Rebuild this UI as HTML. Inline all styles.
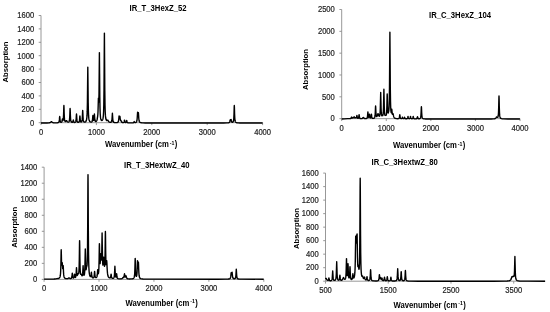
<!DOCTYPE html>
<html><head><meta charset="utf-8"><style>
html,body{margin:0;padding:0;background:#fff;width:550px;height:312px;overflow:hidden}
svg{position:absolute;left:0;top:0;font-family:'Liberation Sans', sans-serif;filter:grayscale(1)}
</style></head><body>
<svg width="550" height="312" viewBox="0 0 550 312">
<path d="M41.0,15.5V122.7H262.6" fill="none" stroke="#8c8c8c" stroke-width="0.9"/>
<text transform="translate(34.20,125.50) scale(1,1.17)" font-size="7.6" text-anchor="end" stroke="#222" stroke-width="0.18" fill="#222">0</text>
<text transform="translate(34.20,112.10) scale(1,1.17)" font-size="7.6" text-anchor="end" stroke="#222" stroke-width="0.18" fill="#222">200</text>
<text transform="translate(34.20,98.70) scale(1,1.17)" font-size="7.6" text-anchor="end" stroke="#222" stroke-width="0.18" fill="#222">400</text>
<text transform="translate(34.20,85.30) scale(1,1.17)" font-size="7.6" text-anchor="end" stroke="#222" stroke-width="0.18" fill="#222">600</text>
<text transform="translate(34.20,71.90) scale(1,1.17)" font-size="7.6" text-anchor="end" stroke="#222" stroke-width="0.18" fill="#222">800</text>
<text transform="translate(34.20,58.50) scale(1,1.17)" font-size="7.6" text-anchor="end" stroke="#222" stroke-width="0.18" fill="#222">1000</text>
<text transform="translate(34.20,45.10) scale(1,1.17)" font-size="7.6" text-anchor="end" stroke="#222" stroke-width="0.18" fill="#222">1200</text>
<text transform="translate(34.20,31.70) scale(1,1.17)" font-size="7.6" text-anchor="end" stroke="#222" stroke-width="0.18" fill="#222">1400</text>
<text transform="translate(34.20,18.30) scale(1,1.17)" font-size="7.6" text-anchor="end" stroke="#222" stroke-width="0.18" fill="#222">1600</text>
<text transform="translate(41.00,135.00) scale(1,1.17)" font-size="7.6" text-anchor="middle" stroke="#222" stroke-width="0.18" fill="#222">0</text>
<text transform="translate(96.40,135.00) scale(1,1.17)" font-size="7.6" text-anchor="middle" stroke="#222" stroke-width="0.18" fill="#222">1000</text>
<text transform="translate(151.80,135.00) scale(1,1.17)" font-size="7.6" text-anchor="middle" stroke="#222" stroke-width="0.18" fill="#222">2000</text>
<text transform="translate(207.20,135.00) scale(1,1.17)" font-size="7.6" text-anchor="middle" stroke="#222" stroke-width="0.18" fill="#222">3000</text>
<text transform="translate(262.60,135.00) scale(1,1.17)" font-size="7.6" text-anchor="middle" stroke="#222" stroke-width="0.18" fill="#222">4000</text>
<path d="M38.7,122.70H41.0M38.7,109.30H41.0M38.7,95.90H41.0M38.7,82.50H41.0M38.7,69.10H41.0M38.7,55.70H41.0M38.7,42.30H41.0M38.7,28.90H41.0M38.7,15.50H41.0M41.00,122.7V125.10000000000001M96.40,122.7V125.10000000000001M151.80,122.7V125.10000000000001M207.20,122.7V125.10000000000001M262.60,122.7V125.10000000000001" fill="none" stroke="#8c8c8c" stroke-width="0.9"/>
<polyline points="41.00,122.97 47.00,122.93 49.20,122.81 49.80,122.69 50.20,122.54 50.60,122.28 51.20,121.68 51.40,121.60 51.60,121.68 52.20,122.27 52.40,122.42 52.80,122.61 53.40,122.75 54.60,122.84 56.20,122.84 57.40,122.78 58.20,122.62 58.60,122.42 58.80,122.22 59.00,121.86 59.20,121.16 59.40,119.67 59.60,117.14 59.70,116.50 59.80,117.12 60.00,119.62 60.20,121.08 60.40,121.74 60.60,122.06 60.80,122.21 61.00,122.27 61.40,122.21 61.60,122.07 61.80,121.79 62.00,121.23 62.40,119.00 62.80,120.48 63.00,120.45 63.20,119.74 63.40,117.98 63.60,114.02 63.80,107.20 63.90,105.50 64.00,107.21 64.20,114.04 64.40,118.04 64.60,119.88 64.80,120.77 65.00,121.22 65.20,121.43 65.40,121.50 65.60,121.45 65.80,121.30 66.20,120.80 66.40,120.62 66.50,120.60 66.60,120.64 66.80,120.87 67.20,121.50 67.40,121.74 67.80,122.03 68.20,122.13 68.60,122.04 68.80,121.91 69.00,121.68 69.20,121.27 69.40,120.50 69.60,118.96 69.80,115.62 70.00,109.92 70.10,108.50 70.20,109.93 70.40,115.64 70.60,119.00 70.80,120.56 71.00,121.34 71.20,121.78 71.40,122.04 71.60,122.19 72.00,122.34 72.40,122.31 72.60,122.20 72.80,121.93 73.00,121.32 73.20,120.26 73.30,120.00 73.40,120.27 73.60,121.34 73.80,121.96 74.00,122.25 74.20,122.38 74.40,122.44 74.80,122.44 75.20,122.30 75.40,122.15 75.60,121.88 75.80,121.41 76.00,120.45 76.20,118.39 76.40,114.88 76.50,114.00 76.60,114.87 76.80,118.37 77.00,120.43 77.20,121.38 77.40,121.84 77.60,122.10 77.80,122.23 78.00,122.31 78.40,122.33 78.80,122.17 79.00,121.98 79.20,121.62 79.40,120.90 79.60,119.33 79.80,116.67 79.90,116.00 80.00,116.65 80.20,119.29 80.40,120.82 80.60,121.50 80.80,121.82 81.00,121.95 81.20,121.97 81.40,121.89 81.60,121.72 81.80,121.38 82.00,120.73 82.20,119.41 82.40,116.56 82.60,111.71 82.70,110.50 82.80,111.71 83.00,116.55 83.20,119.39 83.40,120.71 83.60,121.35 83.80,121.70 84.00,121.90 84.20,122.01 84.60,122.08 85.00,122.03 85.40,121.86 85.80,121.52 86.00,121.25 86.20,120.88 86.40,120.33 86.60,119.50 86.80,118.19 87.00,115.92 87.20,111.65 87.40,102.74 87.60,84.24 87.80,67.10 88.00,84.23 88.20,102.73 88.40,111.64 88.60,115.91 88.80,118.17 89.00,119.48 89.20,120.31 89.40,120.85 89.60,121.23 89.80,121.49 90.00,121.69 90.40,121.93 91.00,122.07 91.40,122.05 91.80,121.87 92.00,121.67 92.20,121.29 92.40,120.54 92.60,118.93 92.80,116.20 92.90,115.50 93.00,116.12 93.20,118.67 93.40,120.04 93.60,120.43 93.80,120.16 94.00,119.04 94.20,116.45 94.40,114.00 94.60,116.52 94.80,119.22 95.00,120.49 95.20,121.08 95.40,121.36 95.60,121.48 95.80,121.50 96.00,121.46 96.20,121.35 96.40,121.18 96.60,120.92 96.80,120.54 97.00,119.97 97.20,119.12 97.40,117.95 97.60,116.60 97.80,114.99 98.00,111.86 98.20,105.12 98.40,98.10 98.60,101.11 98.80,102.06 99.00,94.12 99.20,72.86 99.40,52.60 99.60,74.05 99.80,97.02 100.00,108.11 100.20,113.45 100.40,116.29 100.60,117.93 100.80,118.95 101.00,119.60 101.20,120.02 101.40,120.29 101.60,120.44 101.80,120.50 102.00,120.47 102.20,120.35 102.40,120.12 102.60,119.76 102.80,119.22 103.00,118.39 103.20,117.10 103.40,115.02 103.60,111.42 103.80,104.59 104.00,90.30 104.20,60.60 104.40,33.10 104.60,60.62 104.80,90.34 105.00,104.65 105.20,111.50 105.40,115.13 105.60,117.23 105.80,118.53 106.00,119.36 106.20,119.91 106.40,120.27 106.60,120.47 106.80,120.54 107.00,120.50 107.40,120.19 107.60,120.08 107.70,120.10 107.80,120.17 108.00,120.46 108.40,121.19 108.60,121.48 108.80,121.71 109.20,122.01 109.60,122.18 110.00,122.27 110.40,122.30 110.80,122.25 111.20,122.07 111.40,121.87 111.60,121.50 111.80,120.79 112.00,119.30 112.20,116.19 112.40,113.30 112.60,116.21 112.80,119.34 113.00,120.86 113.20,121.59 113.40,121.98 113.60,122.20 114.00,122.45 114.40,122.56 115.00,122.64 115.80,122.67 116.60,122.63 117.40,122.48 117.80,122.27 118.00,122.09 118.20,121.81 118.40,121.34 118.60,120.47 118.80,118.84 119.00,116.52 119.10,115.90 119.20,116.14 119.40,117.54 119.60,117.70 119.80,116.60 119.90,116.40 120.00,116.91 120.20,118.77 120.40,119.93 120.60,120.29 120.80,120.33 120.90,120.40 121.00,120.58 121.40,121.63 121.60,121.98 121.80,122.21 122.20,122.46 122.60,122.57 123.20,122.60 123.60,122.50 123.80,122.36 124.00,122.08 124.20,121.45 124.40,120.37 124.50,120.10 124.60,120.37 124.80,121.45 125.00,122.08 125.20,122.36 125.40,122.48 125.60,122.52 125.80,122.50 126.00,122.41 126.20,122.16 126.40,121.60 126.60,120.64 126.70,120.40 126.80,120.65 127.00,121.64 127.20,122.22 127.40,122.50 127.60,122.64 128.00,122.77 129.00,122.86 130.60,122.88 132.40,122.85 133.20,122.76 133.60,122.60 133.80,122.40 134.20,121.60 134.60,122.33 134.80,122.50 135.20,122.57 135.60,122.50 136.00,122.33 136.20,122.18 136.40,121.95 136.60,121.61 136.80,121.05 137.00,120.07 137.20,118.22 137.40,114.95 137.60,112.20 138.00,115.15 138.20,114.06 138.40,112.80 138.60,115.42 138.80,118.48 139.00,120.22 139.20,121.15 139.40,121.68 139.60,122.01 139.80,122.23 140.20,122.49 140.80,122.68 141.60,122.80 143.00,122.89 145.20,122.94 155.20,122.98 216.00,122.99 223.60,122.97 227.00,122.92 228.60,122.78 229.00,122.67 229.40,122.44 229.60,122.21 229.80,121.79 230.00,121.01 230.20,119.90 230.30,119.60 230.40,119.70 230.60,120.30 230.80,120.27 231.00,119.62 231.10,119.50 231.20,119.79 231.40,120.89 231.60,121.64 231.80,122.03 232.00,122.21 232.20,122.29 232.40,122.30 232.80,122.15 233.00,121.97 233.20,121.67 233.40,121.15 233.60,120.20 233.80,118.30 234.00,114.21 234.20,107.24 234.30,105.50 234.40,107.25 234.60,114.23 234.80,118.34 235.00,120.25 235.20,121.22 235.40,121.76 235.60,122.09 235.80,122.30 236.00,122.45 236.60,122.69 237.20,122.80 238.20,122.88 239.80,122.94 245.80,122.98 262.60,123.00" fill="none" stroke="#000" stroke-width="1.4" stroke-linejoin="round"/>
<text transform="translate(129.60,10.80) scale(1,1.17)" font-size="7.7" text-anchor="start" font-weight="bold" fill="#000">IR_T_3HexZ_52</text>
<text transform="translate(105.10,147.00) scale(1,1.17)" font-size="7.7" text-anchor="start" font-weight="bold" fill="#000">Wavenumber (cm<tspan font-size="5.24" dx="0.8" dy="-2.0">-1</tspan><tspan dx="0.4" dy="2.0">)</tspan></text>
<text transform="translate(7.90,62.00) rotate(-90) scale(1.0,1)" font-size="7.7" text-anchor="middle" font-weight="bold" fill="#000">Absorption</text>
<path d="M341.7,9.5V118.65H520.0" fill="none" stroke="#8c8c8c" stroke-width="0.9"/>
<text transform="translate(334.80,121.45) scale(1,1.17)" font-size="7.6" text-anchor="end" stroke="#222" stroke-width="0.18" fill="#222">0</text>
<text transform="translate(334.80,99.62) scale(1,1.17)" font-size="7.6" text-anchor="end" stroke="#222" stroke-width="0.18" fill="#222">500</text>
<text transform="translate(334.80,77.79) scale(1,1.17)" font-size="7.6" text-anchor="end" stroke="#222" stroke-width="0.18" fill="#222">1000</text>
<text transform="translate(334.80,55.96) scale(1,1.17)" font-size="7.6" text-anchor="end" stroke="#222" stroke-width="0.18" fill="#222">1500</text>
<text transform="translate(334.80,34.13) scale(1,1.17)" font-size="7.6" text-anchor="end" stroke="#222" stroke-width="0.18" fill="#222">2000</text>
<text transform="translate(334.80,12.30) scale(1,1.17)" font-size="7.6" text-anchor="end" stroke="#222" stroke-width="0.18" fill="#222">2500</text>
<text transform="translate(341.70,130.80) scale(1,1.17)" font-size="7.6" text-anchor="middle" stroke="#222" stroke-width="0.18" fill="#222">0</text>
<text transform="translate(386.27,130.80) scale(1,1.17)" font-size="7.6" text-anchor="middle" stroke="#222" stroke-width="0.18" fill="#222">1000</text>
<text transform="translate(430.85,130.80) scale(1,1.17)" font-size="7.6" text-anchor="middle" stroke="#222" stroke-width="0.18" fill="#222">2000</text>
<text transform="translate(475.42,130.80) scale(1,1.17)" font-size="7.6" text-anchor="middle" stroke="#222" stroke-width="0.18" fill="#222">3000</text>
<text transform="translate(520.00,130.80) scale(1,1.17)" font-size="7.6" text-anchor="middle" stroke="#222" stroke-width="0.18" fill="#222">4000</text>
<path d="M339.4,118.65H341.7M339.4,96.82H341.7M339.4,74.99H341.7M339.4,53.16H341.7M339.4,31.33H341.7M339.4,9.50H341.7M341.70,118.65V121.05000000000001M386.27,118.65V121.05000000000001M430.85,118.65V121.05000000000001M475.42,118.65V121.05000000000001M520.00,118.65V121.05000000000001" fill="none" stroke="#8c8c8c" stroke-width="0.9"/>
<polyline points="341.70,118.95 344.50,118.85 347.70,118.61 349.90,118.62 350.50,118.57 350.90,118.42 351.10,118.23 351.30,117.84 351.50,117.18 351.60,117.00 351.70,117.14 351.90,117.71 352.10,118.00 352.30,118.06 353.00,117.80 353.50,117.80 353.70,117.64 354.10,116.70 354.50,117.69 354.70,117.87 354.90,117.86 355.30,117.66 355.50,117.60 356.10,117.77 356.30,117.68 356.50,117.29 356.90,115.40 357.10,116.41 357.30,117.48 357.50,117.99 357.70,118.22 357.90,118.30 358.10,118.30 358.30,118.19 358.50,117.91 358.70,117.29 358.90,115.95 359.10,114.70 359.30,115.97 359.50,117.34 359.70,118.00 359.90,118.31 360.10,118.48 360.50,118.62 360.90,118.66 361.50,118.63 361.90,118.53 362.30,118.34 362.50,118.19 363.10,117.58 363.30,117.50 363.50,117.58 364.10,118.18 364.30,118.33 364.70,118.52 365.50,118.64 366.30,118.56 366.70,118.40 366.90,118.23 367.10,117.95 367.30,117.41 367.50,116.31 367.70,114.03 367.90,111.90 368.10,113.94 368.30,116.13 368.50,117.11 368.70,117.44 368.90,117.37 369.10,116.81 369.30,115.42 369.50,114.10 369.70,115.48 369.90,116.94 370.10,117.62 370.30,117.89 370.50,117.94 370.70,117.79 370.90,117.36 371.10,116.34 371.30,114.55 371.40,114.10 371.50,114.56 371.70,116.39 371.90,117.46 372.10,117.95 372.30,118.20 372.50,118.32 372.70,118.39 373.10,118.43 373.70,118.33 374.10,118.14 374.30,117.97 374.50,117.72 374.70,117.31 374.90,116.60 375.10,115.21 375.30,112.26 375.50,107.27 375.60,106.00 375.70,107.19 375.90,112.02 376.10,114.79 376.30,115.99 376.50,116.46 376.70,116.57 376.90,116.45 377.10,116.12 377.30,115.61 377.70,114.20 377.90,113.68 378.00,113.60 378.10,113.66 378.30,114.13 378.70,115.44 378.90,115.90 379.10,116.17 379.30,116.24 379.50,116.10 379.70,115.66 379.90,114.74 380.10,112.87 380.30,108.83 380.50,100.36 380.70,92.50 380.90,100.35 381.10,108.80 381.30,112.81 381.50,114.63 381.70,115.46 381.90,115.74 382.30,115.60 382.50,115.64 382.70,115.61 382.90,115.23 383.10,114.25 383.30,112.16 383.50,107.62 383.70,98.07 383.90,89.20 384.10,98.05 384.30,107.57 384.50,112.09 384.70,114.16 384.90,115.11 385.10,115.45 385.30,115.39 385.50,115.16 385.60,115.10 385.70,115.13 385.90,115.31 386.10,115.30 386.30,114.86 386.50,113.71 386.70,111.21 386.90,105.71 387.10,96.30 387.20,93.90 387.30,96.15 387.50,105.25 387.70,110.39 387.90,112.45 388.10,113.00 388.30,112.73 388.50,112.10 388.70,111.33 388.90,109.89 389.10,106.85 389.30,100.57 389.50,87.03 389.70,58.63 389.90,32.30 390.10,58.73 390.30,87.23 390.50,100.90 390.70,107.37 390.90,110.64 391.10,112.29 391.30,112.79 391.50,112.00 391.70,109.82 391.80,109.30 391.90,110.05 392.10,112.70 392.30,114.04 392.50,114.29 392.90,113.58 393.00,113.60 393.10,113.82 393.30,114.70 393.50,115.69 393.70,116.47 393.90,117.03 394.10,117.42 394.30,117.70 394.70,118.06 395.10,118.28 395.50,118.42 396.10,118.55 396.90,118.65 397.70,118.68 398.30,118.64 398.70,118.53 398.90,118.42 399.10,118.20 399.30,117.76 399.50,116.82 399.70,115.20 399.80,114.80 399.90,115.21 400.10,116.82 400.30,117.77 400.50,118.21 400.70,118.43 401.10,118.60 401.50,118.61 401.70,118.54 401.90,118.38 402.10,118.01 402.30,117.36 402.40,117.20 402.50,117.37 402.70,118.02 402.90,118.40 403.10,118.57 403.30,118.64 403.70,118.62 403.90,118.51 404.10,118.26 404.50,117.20 404.90,118.29 405.10,118.56 405.30,118.69 405.70,118.79 406.10,118.82 406.90,118.74 407.10,118.67 407.30,118.53 407.50,118.26 407.70,117.66 407.90,116.65 408.00,116.40 408.10,116.65 408.30,117.65 408.50,118.24 408.70,118.50 408.90,118.62 409.10,118.68 409.50,118.66 409.70,118.57 409.90,118.40 410.10,118.00 410.50,116.40 410.90,118.01 411.10,118.41 411.30,118.59 411.50,118.68 411.70,118.72 412.10,118.71 412.30,118.65 412.50,118.52 412.70,118.25 412.90,117.66 413.10,116.65 413.20,116.40 413.30,116.66 413.50,117.68 413.70,118.28 413.90,118.56 414.10,118.70 414.30,118.77 414.90,118.87 415.70,118.87 416.30,118.81 416.70,118.65 416.90,118.47 417.10,118.10 417.50,116.60 417.90,118.08 418.10,118.44 418.30,118.61 418.70,118.72 419.30,118.70 419.70,118.60 420.10,118.36 420.30,118.14 420.50,117.76 420.70,117.09 420.90,115.74 421.10,112.85 421.30,107.93 421.40,106.70 421.50,107.93 421.70,112.86 421.90,115.75 422.10,117.10 422.30,117.78 422.50,118.16 422.70,118.39 423.10,118.65 423.70,118.81 424.50,118.91 425.70,118.97 430.50,119.02 480.90,119.04 491.30,118.97 493.30,118.89 494.50,118.73 495.10,118.54 495.50,118.29 495.90,117.87 496.30,117.28 496.50,117.05 496.60,117.00 496.70,117.00 496.90,117.10 497.30,117.40 497.50,117.42 497.70,117.30 497.90,117.00 498.10,116.38 498.30,115.19 498.50,112.74 498.70,107.39 498.90,98.27 499.00,96.00 499.10,98.30 499.30,107.47 499.50,112.87 499.70,115.39 499.90,116.67 500.10,117.38 500.30,117.82 500.50,118.10 500.90,118.43 501.50,118.68 502.30,118.83 503.50,118.92 507.90,119.01 519.90,119.04" fill="none" stroke="#000" stroke-width="1.4" stroke-linejoin="round"/>
<text transform="translate(429.00,18.40) scale(1,1.17)" font-size="7.7" text-anchor="start" font-weight="bold" fill="#000">IR_C_3HexZ_104</text>
<text transform="translate(393.00,148.10) scale(1,1.17)" font-size="7.7" text-anchor="start" font-weight="bold" fill="#000">Wavenumber (cm<tspan font-size="5.24" dx="0.8" dy="-2.0">-1</tspan><tspan dx="0.4" dy="2.0">)</tspan></text>
<text transform="translate(307.90,69.50) rotate(-90) scale(1.0,1)" font-size="7.7" text-anchor="middle" font-weight="bold" fill="#000">Absorption</text>
<path d="M44.1,167.2V279.4H263.8" fill="none" stroke="#8c8c8c" stroke-width="0.9"/>
<text transform="translate(37.30,282.20) scale(1,1.17)" font-size="7.6" text-anchor="end" stroke="#222" stroke-width="0.18" fill="#222">0</text>
<text transform="translate(37.30,266.17) scale(1,1.17)" font-size="7.6" text-anchor="end" stroke="#222" stroke-width="0.18" fill="#222">200</text>
<text transform="translate(37.30,250.14) scale(1,1.17)" font-size="7.6" text-anchor="end" stroke="#222" stroke-width="0.18" fill="#222">400</text>
<text transform="translate(37.30,234.11) scale(1,1.17)" font-size="7.6" text-anchor="end" stroke="#222" stroke-width="0.18" fill="#222">600</text>
<text transform="translate(37.30,218.09) scale(1,1.17)" font-size="7.6" text-anchor="end" stroke="#222" stroke-width="0.18" fill="#222">800</text>
<text transform="translate(37.30,202.06) scale(1,1.17)" font-size="7.6" text-anchor="end" stroke="#222" stroke-width="0.18" fill="#222">1000</text>
<text transform="translate(37.30,186.03) scale(1,1.17)" font-size="7.6" text-anchor="end" stroke="#222" stroke-width="0.18" fill="#222">1200</text>
<text transform="translate(37.30,170.00) scale(1,1.17)" font-size="7.6" text-anchor="end" stroke="#222" stroke-width="0.18" fill="#222">1400</text>
<text transform="translate(44.10,290.60) scale(1,1.17)" font-size="7.6" text-anchor="middle" stroke="#222" stroke-width="0.18" fill="#222">0</text>
<text transform="translate(99.03,290.60) scale(1,1.17)" font-size="7.6" text-anchor="middle" stroke="#222" stroke-width="0.18" fill="#222">1000</text>
<text transform="translate(153.95,290.60) scale(1,1.17)" font-size="7.6" text-anchor="middle" stroke="#222" stroke-width="0.18" fill="#222">2000</text>
<text transform="translate(208.88,290.60) scale(1,1.17)" font-size="7.6" text-anchor="middle" stroke="#222" stroke-width="0.18" fill="#222">3000</text>
<text transform="translate(263.80,290.60) scale(1,1.17)" font-size="7.6" text-anchor="middle" stroke="#222" stroke-width="0.18" fill="#222">4000</text>
<path d="M41.800000000000004,279.40H44.1M41.800000000000004,263.37H44.1M41.800000000000004,247.34H44.1M41.800000000000004,231.31H44.1M41.800000000000004,215.29H44.1M41.800000000000004,199.26H44.1M41.800000000000004,183.23H44.1M41.800000000000004,167.20H44.1M44.10,279.4V281.79999999999995M99.03,279.4V281.79999999999995M153.95,279.4V281.79999999999995M208.88,279.4V281.79999999999995M263.80,279.4V281.79999999999995" fill="none" stroke="#8c8c8c" stroke-width="0.9"/>
<polyline points="44.10,279.15 51.90,279.09 53.90,279.03 55.30,278.93 55.90,278.84 56.90,278.61 57.90,278.57 58.50,278.45 59.10,278.16 59.50,277.79 59.70,277.49 59.90,277.08 60.10,276.46 60.30,275.49 60.50,273.81 60.70,270.63 60.90,264.01 61.10,252.85 61.20,249.80 61.30,251.93 61.50,261.05 61.70,264.99 61.90,264.58 62.10,262.80 62.20,262.60 62.30,263.29 62.50,266.27 62.70,268.64 62.90,268.64 63.10,266.08 63.20,265.60 63.30,267.06 63.50,271.80 63.70,274.66 63.90,276.10 64.10,276.90 64.30,277.40 64.50,277.73 64.70,277.96 64.90,278.13 65.30,278.36 65.70,278.50 66.30,278.61 67.10,278.65 67.70,278.57 68.10,278.43 68.70,278.02 69.00,277.90 69.30,278.01 69.70,278.29 70.10,278.47 70.70,278.53 71.10,278.42 71.30,278.30 71.50,278.07 71.70,277.64 71.90,276.73 72.10,274.85 72.30,273.10 72.50,274.81 72.70,276.65 72.90,277.51 73.10,277.88 73.30,278.03 73.50,278.04 73.70,277.92 73.90,277.61 74.10,276.92 74.30,275.47 74.50,274.10 74.70,275.37 74.90,276.71 75.10,277.27 75.30,277.42 75.50,277.30 75.70,276.93 75.90,276.13 76.10,274.43 76.30,270.91 76.50,267.60 76.70,270.62 76.90,273.82 77.10,275.13 77.30,275.42 77.50,275.13 77.90,273.79 78.00,273.60 78.10,273.56 78.30,273.77 78.50,273.83 78.70,273.28 78.90,271.62 79.10,267.79 79.30,259.16 79.50,244.31 79.60,240.60 79.70,244.33 79.90,259.21 80.10,267.89 80.30,271.79 80.50,273.57 80.70,274.28 80.90,274.38 81.10,274.16 81.30,274.10 81.50,274.52 81.70,275.15 81.90,275.63 82.10,275.82 82.30,275.65 82.50,274.93 82.70,273.14 82.90,269.25 83.10,265.60 83.30,269.17 83.50,272.97 83.70,274.66 83.90,275.26 84.10,275.27 84.30,274.82 84.50,273.76 84.70,271.61 84.90,267.08 85.10,257.70 85.30,248.90 85.50,256.99 85.70,265.55 85.90,269.03 86.10,269.71 86.30,268.77 86.50,267.17 86.60,266.60 86.70,266.34 86.90,266.12 87.10,264.63 87.30,260.10 87.50,249.54 87.70,225.75 87.90,184.80 88.00,174.60 88.10,185.02 88.30,226.47 88.50,250.87 88.70,262.26 88.90,268.02 89.10,271.24 89.30,273.20 89.50,274.46 89.70,275.31 89.90,275.89 90.10,276.29 90.30,276.54 90.50,276.64 90.70,276.55 90.90,276.11 91.10,274.93 91.30,272.81 91.40,272.30 91.50,272.90 91.70,275.20 91.90,276.56 92.10,277.21 92.30,277.55 92.50,277.73 92.90,277.89 93.30,277.86 93.50,277.76 93.70,277.57 93.90,277.20 94.10,276.46 94.30,274.84 94.50,272.09 94.60,271.40 94.70,272.08 94.90,274.79 95.10,276.37 95.30,277.08 95.50,277.40 95.70,277.54 95.90,277.59 96.30,277.48 96.50,277.33 96.70,277.09 96.90,276.70 97.10,276.02 97.30,274.70 97.50,272.10 97.70,269.60 98.10,273.29 98.30,273.67 98.50,273.03 98.70,271.32 98.90,267.72 99.10,260.05 99.30,247.08 99.40,243.60 99.50,246.23 99.70,257.39 99.90,262.89 100.10,263.66 100.30,261.61 100.50,257.81 100.70,254.28 100.80,253.60 100.90,253.95 101.30,259.60 101.50,260.01 101.70,255.98 101.90,244.28 102.10,232.90 102.30,245.22 102.50,258.03 102.70,263.53 102.90,265.08 103.10,264.31 103.30,261.84 103.50,258.66 103.70,257.10 103.90,258.87 104.10,262.30 104.30,265.08 104.50,266.34 104.70,265.67 104.90,262.05 105.10,252.58 105.30,235.68 105.40,231.40 105.50,235.64 105.70,252.42 105.90,261.60 106.10,264.59 106.30,264.11 106.50,261.76 106.70,260.60 106.90,263.32 107.10,267.60 107.30,270.97 107.50,273.18 107.70,274.61 107.90,275.56 108.10,276.21 108.30,276.68 108.50,277.03 108.70,277.30 108.90,277.50 109.10,277.66 109.50,277.86 109.90,277.93 110.10,277.90 110.30,277.78 110.50,277.49 110.70,276.84 110.90,275.42 111.10,274.10 111.30,275.47 111.50,276.95 111.70,277.67 111.90,278.02 112.10,278.20 112.30,278.30 112.90,278.38 113.30,278.29 113.50,278.19 113.70,278.02 113.90,277.73 114.10,277.23 114.30,276.28 114.50,274.29 114.70,270.15 114.90,266.30 115.10,270.10 115.30,274.18 115.50,276.09 115.70,276.89 115.90,277.13 116.10,276.89 116.30,275.91 116.50,274.05 116.60,273.60 116.70,274.14 116.90,276.20 117.10,277.42 117.30,278.00 117.50,278.31 117.70,278.49 118.10,278.68 118.90,278.83 120.10,278.88 121.30,278.81 121.90,278.66 122.30,278.41 122.50,278.17 122.90,277.49 123.00,277.40 123.10,277.40 123.50,277.65 123.70,277.53 123.90,277.12 124.10,276.23 124.30,274.79 124.50,273.80 124.70,274.71 124.90,276.06 125.10,276.82 125.30,277.06 125.50,276.89 125.90,275.87 126.00,275.80 126.10,275.95 126.50,277.40 126.70,277.91 126.90,278.23 127.10,278.44 127.30,278.58 127.70,278.74 128.50,278.88 129.50,278.94 130.90,278.92 131.90,278.85 132.50,278.76 133.10,278.58 133.50,278.35 133.70,278.16 133.90,277.90 134.10,277.50 134.30,276.85 134.50,275.70 134.70,273.45 134.90,268.63 135.10,260.46 135.20,258.40 135.30,260.39 135.50,268.42 135.70,273.08 135.90,275.15 136.10,276.06 136.30,276.37 136.50,276.28 136.70,275.75 136.90,274.51 137.10,271.79 137.30,266.12 137.50,260.60 137.70,264.59 137.90,268.05 138.10,266.90 138.30,262.86 138.40,262.10 138.50,263.54 138.70,269.26 138.90,273.29 139.10,275.44 139.30,276.61 139.50,277.30 139.70,277.74 139.90,278.04 140.10,278.25 140.30,278.40 140.70,278.61 141.70,278.87 143.10,279.01 145.50,279.09 155.90,279.17 218.30,279.18 225.30,279.15 228.10,279.06 228.90,278.98 229.50,278.83 229.90,278.63 230.10,278.46 230.30,278.19 230.50,277.74 230.70,276.91 230.90,275.37 231.10,273.17 231.20,272.60 231.30,272.86 231.50,274.29 231.70,274.62 231.90,273.41 232.10,272.30 232.30,274.02 232.50,276.10 232.70,277.28 232.90,277.91 233.10,278.26 233.30,278.46 233.50,278.59 233.90,278.72 234.50,278.73 234.90,278.61 235.10,278.48 235.30,278.25 235.50,277.86 235.70,277.10 235.90,275.50 236.10,272.18 236.30,269.10 236.50,272.19 236.70,275.53 236.90,277.14 237.10,277.91 237.30,278.32 237.50,278.56 237.90,278.82 238.30,278.94 239.10,279.06 241.70,279.15 263.70,279.19" fill="none" stroke="#000" stroke-width="1.4" stroke-linejoin="round"/>
<text transform="translate(124.00,168.30) scale(1,1.17)" font-size="7.7" text-anchor="start" font-weight="bold" fill="#000">IR_T_3HextwZ_40</text>
<text transform="translate(125.50,305.50) scale(1,1.17)" font-size="7.7" text-anchor="start" font-weight="bold" fill="#000">Wavenumber (cm<tspan font-size="5.24" dx="0.8" dy="-2.0">-1</tspan><tspan dx="0.4" dy="2.0">)</tspan></text>
<text transform="translate(17.20,227.30) rotate(-90) scale(1.0,1)" font-size="7.7" text-anchor="middle" font-weight="bold" fill="#000">Absorption</text>
<path d="M325.5,173.1V281.2H545.1" fill="none" stroke="#8c8c8c" stroke-width="0.9"/>
<text transform="translate(318.70,284.00) scale(1,1.17)" font-size="7.6" text-anchor="end" stroke="#222" stroke-width="0.18" fill="#222">0</text>
<text transform="translate(318.70,270.49) scale(1,1.17)" font-size="7.6" text-anchor="end" stroke="#222" stroke-width="0.18" fill="#222">200</text>
<text transform="translate(318.70,256.97) scale(1,1.17)" font-size="7.6" text-anchor="end" stroke="#222" stroke-width="0.18" fill="#222">400</text>
<text transform="translate(318.70,243.46) scale(1,1.17)" font-size="7.6" text-anchor="end" stroke="#222" stroke-width="0.18" fill="#222">600</text>
<text transform="translate(318.70,229.95) scale(1,1.17)" font-size="7.6" text-anchor="end" stroke="#222" stroke-width="0.18" fill="#222">800</text>
<text transform="translate(318.70,216.44) scale(1,1.17)" font-size="7.6" text-anchor="end" stroke="#222" stroke-width="0.18" fill="#222">1000</text>
<text transform="translate(318.70,202.93) scale(1,1.17)" font-size="7.6" text-anchor="end" stroke="#222" stroke-width="0.18" fill="#222">1200</text>
<text transform="translate(318.70,189.41) scale(1,1.17)" font-size="7.6" text-anchor="end" stroke="#222" stroke-width="0.18" fill="#222">1400</text>
<text transform="translate(318.70,175.90) scale(1,1.17)" font-size="7.6" text-anchor="end" stroke="#222" stroke-width="0.18" fill="#222">1600</text>
<text transform="translate(325.50,293.00) scale(1,1.17)" font-size="7.6" text-anchor="middle" stroke="#222" stroke-width="0.18" fill="#222">500</text>
<text transform="translate(388.24,293.00) scale(1,1.17)" font-size="7.6" text-anchor="middle" stroke="#222" stroke-width="0.18" fill="#222">1500</text>
<text transform="translate(450.99,293.00) scale(1,1.17)" font-size="7.6" text-anchor="middle" stroke="#222" stroke-width="0.18" fill="#222">2500</text>
<text transform="translate(513.73,293.00) scale(1,1.17)" font-size="7.6" text-anchor="middle" stroke="#222" stroke-width="0.18" fill="#222">3500</text>
<path d="M323.2,281.20H325.5M323.2,267.69H325.5M323.2,254.17H325.5M323.2,240.66H325.5M323.2,227.15H325.5M323.2,213.64H325.5M323.2,200.12H325.5M323.2,186.61H325.5M323.2,173.10H325.5M325.50,281.2V283.59999999999997M388.24,281.2V283.59999999999997M450.99,281.2V283.59999999999997M513.73,281.2V283.59999999999997" fill="none" stroke="#8c8c8c" stroke-width="0.9"/>
<polyline points="325.50,279.10 325.70,278.65 325.90,278.35 326.00,278.30 326.10,278.34 326.30,278.63 326.70,279.48 326.90,279.81 327.10,280.06 327.30,280.23 327.70,280.41 327.90,280.42 328.10,280.36 328.30,280.18 328.50,279.74 328.70,278.79 328.90,277.90 329.10,278.82 329.30,279.81 329.50,280.29 329.70,280.51 330.10,280.69 330.70,280.70 331.10,280.61 331.50,280.37 331.70,280.13 331.90,279.73 332.10,278.95 332.30,277.34 332.50,274.00 332.70,270.90 332.90,273.98 333.10,277.31 333.30,278.90 333.50,279.65 333.70,280.03 333.90,280.24 334.30,280.41 334.70,280.40 334.90,280.34 335.10,280.23 335.30,280.06 335.50,279.79 335.70,279.34 335.90,278.56 336.10,277.09 336.30,274.01 336.50,267.62 336.70,261.70 336.90,267.61 337.10,274.00 337.30,277.06 337.50,278.52 337.70,279.29 337.90,279.72 338.10,279.97 338.30,280.12 338.50,280.19 338.70,280.19 338.90,280.12 339.10,279.94 339.30,279.54 339.50,278.67 339.70,276.82 339.90,275.10 340.10,276.82 340.30,278.67 340.50,279.55 340.70,279.96 340.90,280.15 341.10,280.24 341.50,280.26 341.90,280.13 342.30,279.81 342.50,279.56 342.70,279.21 343.30,277.81 343.50,277.60 343.70,277.74 344.10,278.56 344.30,278.92 344.50,279.16 344.70,279.28 344.90,279.30 345.10,279.20 345.30,278.96 345.50,278.49 345.70,277.63 345.90,275.98 346.10,272.51 346.30,265.31 346.50,258.60 346.70,265.00 346.90,271.82 347.10,274.74 347.30,275.48 347.50,274.57 347.70,271.27 347.90,265.12 348.00,263.60 348.10,265.27 348.30,271.75 348.50,275.52 348.70,277.18 348.90,277.87 349.10,277.98 349.30,277.55 349.50,276.28 349.70,273.23 349.90,267.92 350.00,266.60 350.10,267.98 350.30,273.41 350.50,276.60 350.70,278.08 350.90,278.80 351.10,279.18 351.30,279.37 351.50,279.45 351.70,279.43 351.90,279.32 352.10,279.08 352.30,278.59 352.50,277.59 352.70,275.53 352.90,273.60 353.10,275.29 353.30,277.08 353.50,277.81 353.70,277.97 353.90,277.83 354.10,277.47 354.30,276.86 354.50,275.93 354.70,274.49 354.90,272.16 355.10,268.12 355.30,260.65 355.50,247.56 355.70,236.10 355.90,240.27 356.10,243.10 356.30,237.06 356.40,235.20 356.50,236.81 356.70,242.30 356.90,238.77 357.10,233.90 357.30,245.03 357.50,257.65 357.70,264.18 357.90,266.61 358.10,266.60 358.30,265.67 358.40,265.60 358.50,266.06 358.70,267.88 358.90,269.20 359.10,269.09 359.30,267.16 359.50,262.36 359.70,251.83 359.90,228.44 360.10,188.29 360.20,178.30 360.30,188.50 360.50,229.07 360.70,252.95 360.90,264.08 361.10,269.68 361.30,272.76 361.50,274.56 361.70,275.62 361.90,276.17 362.10,276.32 362.50,276.04 362.60,276.10 362.70,276.29 363.10,277.66 363.30,278.18 363.50,278.48 363.70,278.57 363.90,278.42 364.10,278.01 364.30,277.40 364.50,277.10 364.70,277.60 364.90,278.42 365.10,279.06 365.30,279.48 365.50,279.74 365.70,279.89 365.90,279.95 366.10,279.94 366.30,279.80 366.50,279.42 366.70,278.53 366.90,276.98 367.00,276.60 367.10,277.01 367.30,278.63 367.50,279.58 367.70,280.03 367.90,280.26 368.10,280.38 368.30,280.44 368.70,280.47 369.10,280.38 369.30,280.27 369.50,280.08 369.70,279.75 369.90,279.15 370.10,277.93 370.30,275.30 370.50,270.82 370.60,269.70 370.70,270.83 370.90,275.33 371.10,277.98 371.30,279.22 371.50,279.85 371.70,280.20 371.90,280.41 372.30,280.65 372.90,280.82 373.70,280.91 376.10,280.96 377.50,280.84 377.90,280.73 378.30,280.51 378.50,280.30 378.70,279.93 378.90,279.23 379.10,277.75 379.30,275.26 379.40,274.60 379.50,275.13 379.70,277.33 379.90,278.43 380.10,278.58 380.30,278.19 380.50,277.67 380.60,277.60 380.70,277.75 381.10,279.13 381.30,279.51 381.50,279.57 381.70,279.18 381.90,278.30 382.00,278.10 382.10,278.39 382.30,279.47 382.50,280.10 382.70,280.40 382.90,280.54 383.10,280.60 383.50,280.56 383.70,280.44 383.90,280.16 384.10,279.56 384.30,278.28 384.50,277.10 384.70,278.29 384.90,279.58 385.10,280.19 385.30,280.48 385.50,280.62 385.70,280.69 386.10,280.68 386.30,280.61 386.50,280.45 386.70,280.12 386.90,279.42 387.10,277.96 387.30,276.60 387.50,277.97 387.70,279.45 387.90,280.16 388.10,280.49 388.30,280.67 388.50,280.77 389.10,280.87 389.70,280.80 389.90,280.72 390.10,280.57 390.30,280.27 390.50,279.64 390.70,278.32 390.90,277.10 391.10,278.33 391.30,279.65 391.50,280.29 391.70,280.59 391.90,280.76 392.10,280.85 392.50,280.95 393.70,281.01 395.10,280.94 395.90,280.77 396.30,280.56 396.50,280.38 396.70,280.08 396.90,279.58 397.10,278.64 397.30,276.67 397.50,272.58 397.70,268.80 397.90,272.57 398.10,276.64 398.30,278.59 398.50,279.51 398.70,279.99 398.90,280.26 399.10,280.41 399.50,280.52 399.90,280.43 400.10,280.29 400.30,280.03 400.50,279.53 400.70,278.51 400.90,276.30 401.10,272.54 401.20,271.60 401.30,272.55 401.50,276.32 401.70,278.54 401.90,279.57 402.10,280.09 402.30,280.37 402.50,280.54 402.90,280.70 403.30,280.74 403.70,280.69 404.10,280.51 404.30,280.33 404.50,280.01 404.70,279.44 404.90,278.29 405.10,275.80 405.30,271.56 405.40,270.50 405.50,271.56 405.70,275.81 405.90,278.31 406.10,279.48 406.30,280.07 406.50,280.40 406.70,280.60 406.90,280.73 407.30,280.89 408.10,281.02 410.90,281.14 418.50,281.18 493.70,281.18 504.70,281.11 507.10,281.02 508.70,280.85 509.30,280.72 509.90,280.50 510.30,280.25 510.70,279.84 510.90,279.54 511.10,279.14 511.30,278.62 511.70,277.30 511.90,276.76 512.00,276.61 512.10,276.55 512.30,276.65 512.50,276.83 512.70,276.89 512.90,276.73 513.30,276.16 513.40,276.10 513.50,276.11 513.70,276.26 513.90,276.32 514.10,275.95 514.30,274.61 514.50,271.19 514.70,263.58 514.90,256.50 515.10,263.96 515.30,271.97 515.50,275.86 515.70,277.76 515.90,278.79 516.10,279.41 516.30,279.80 516.50,280.08 516.70,280.27 516.90,280.42 517.30,280.62 518.10,280.84 519.30,280.99 521.10,281.08 527.70,281.17 545.10,281.19" fill="none" stroke="#000" stroke-width="1.4" stroke-linejoin="round"/>
<text transform="translate(371.50,164.90) scale(1,1.17)" font-size="7.7" text-anchor="start" font-weight="bold" fill="#000">IR_C_3HextwZ_80</text>
<text transform="translate(393.50,307.70) scale(1,1.17)" font-size="7.7" text-anchor="start" font-weight="bold" fill="#000">Wavenumber (cm<tspan font-size="5.24" dx="0.8" dy="-2.0">-1</tspan><tspan dx="0.4" dy="2.0">)</tspan></text>
<text transform="translate(298.70,228.60) rotate(-90) scale(1.0,1)" font-size="7.7" text-anchor="middle" font-weight="bold" fill="#000">Absorption</text>
</svg>
</body></html>
